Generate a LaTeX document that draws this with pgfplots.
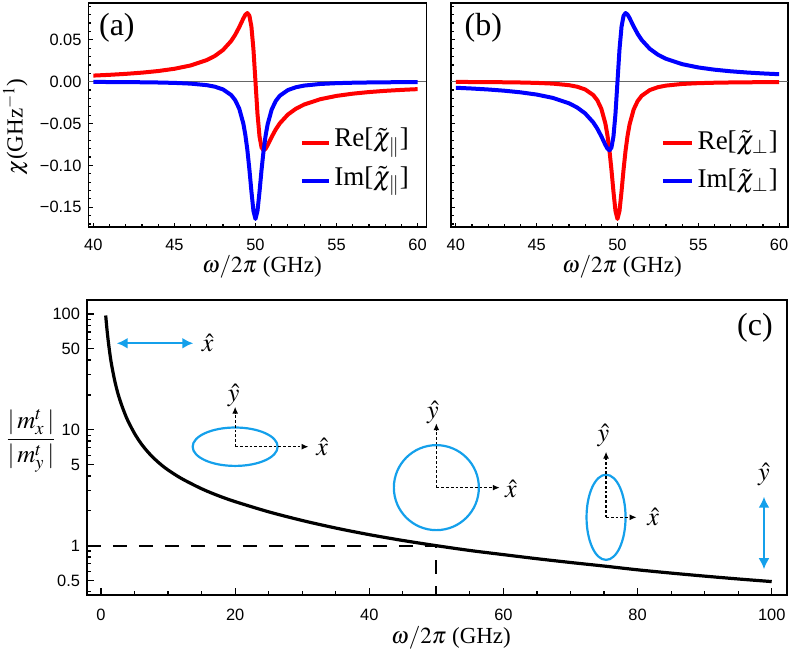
\documentclass[border=0pt]{standalone}
\usepackage{amsmath}
\usepackage{mathptmx}
\usepackage[no-math]{fontspec}
\setmainfont{Liberation Serif}
\newfontfamily\ticksf{Liberation Sans}
\usepackage{pgfplots}
\usepackage{pgfplotstable}
\pgfplotsset{compat=1.18}
\usetikzlibrary{arrows.meta}
\definecolor{cred}{RGB}{255,0,0}
\definecolor{cblue}{RGB}{0,0,255}
\definecolor{lblue}{RGB}{20,160,235}
\newcommand\lab{\fontsize{11.5}{13}\selectfont}
\newcommand\hatf{\fontsize{13}{15}\selectfont}
\newcommand\leg{\fontsize{13.5}{15}\selectfont}
\newcommand\pan{\fontsize{16}{18}\selectfont}
\tikzset{
  dotarrow/.style={black, line width=0.65pt, dash pattern=on 1.4pt off 1pt, -{Latex[length=3.5pt,width=3pt]}},
  bluearrow/.style={lblue, line width=1.1pt, {Latex[length=5.5pt,width=5.5pt]}-{Latex[length=5.5pt,width=5.5pt]}},
}

\pgfplotstableread{
w reA imA reB imB
40 0.00727 -0.00032 -0.00032 -0.00727
41 0.00819 -0.00041 -0.00041 -0.00819
42 0.00933 -0.00053 -0.00053 -0.00933
43 0.01079 -0.00071 -0.00071 -0.01079
44 0.01272 -0.00099 -0.00099 -0.01272
45 0.01540 -0.00146 -0.00146 -0.01540
46 0.01937 -0.00232 -0.00232 -0.01937
47 0.02582 -0.00417 -0.00417 -0.02582
47.5 0.03079 -0.00600 -0.00600 -0.03079
48 0.03789 -0.00928 -0.00928 -0.03789
48.5 0.04860 -0.01595 -0.01595 -0.04860
48.75 0.05603 -0.02213 -0.02213 -0.05603
49 0.06520 -0.03227 -0.03227 -0.06520
49.25 0.07547 -0.04993 -0.04993 -0.07547
49.375 0.07989 -0.06351 -0.06351 -0.07989
49.5 0.08200 -0.08159 -0.08159 -0.08200
49.625 0.07880 -0.10468 -0.10468 -0.07880
49.75 0.06570 -0.13107 -0.13107 -0.06570
49.875 0.03863 -0.15433 -0.15433 -0.03863
50 0.00000 -0.16400 -0.16400 0.00000
50.125 -0.03855 -0.15438 -0.15438 0.03855
50.25 -0.06550 -0.13133 -0.13133 0.06550
50.375 -0.07864 -0.10524 -0.10524 0.07864
50.5 -0.08200 -0.08241 -0.08241 0.08200
50.625 -0.08011 -0.06448 -0.06448 0.08011
50.75 -0.07591 -0.05098 -0.05098 0.07591
51 -0.06599 -0.03332 -0.03332 0.06599
51.25 -0.05705 -0.02310 -0.02310 0.05705
51.5 -0.04978 -0.01684 -0.01684 0.04978
52 -0.03925 -0.01001 -0.01001 0.03925
52.5 -0.03225 -0.00661 -0.00661 0.03225
53 -0.02733 -0.00469 -0.00469 0.02733
54 -0.02094 -0.00272 -0.00272 0.02094
55 -0.01699 -0.00178 -0.00178 0.01699
56 -0.01433 -0.00126 -0.00126 0.01433
57 -0.01241 -0.00094 -0.00094 0.01241
58 -0.01096 -0.00074 -0.00074 0.01096
59 -0.00983 -0.00059 -0.00059 0.00983
60 -0.00892 -0.00049 -0.00049 0.00892
}\chidata

\pgfplotstableread{
w v
0.7 97.1
0.85 77.6
1.0 64
1.2 51.3
1.5 38.7
2.0 27.25
2.5 20.8
3.0 16.83
3.5 14.06
4.0 12.0
5.0 9.3
6.0 7.58
7.0 6.43
8.0 5.6
9.0 4.98
10 4.5
12 3.8
15 3.1
17.5 2.70
20 2.40
25 1.96
30 1.65
35 1.42
40 1.245
45 1.109
50 1.0
55 0.909
60 0.837
65 0.772
70 0.716
75 0.667
80 0.619
85 0.58
90 0.546
95 0.516
100 0.49
}\ratiodata

\pgfplotsset{
  frame/.style={
    scale only axis,
    tick align=inside,
    xtick pos=left, ytick pos=left,
    tick style={black, line width=0.6pt},
    axis line style={line width=0.9pt},
    ticklabel style={font=\ticksf\fontsize{8.2}{9}\selectfont},
    /pgf/number format/assume math mode=true,
    xlabel style={font=\lab, anchor=center},
    ylabel style={font=\lab, anchor=center},
  },
  chistyle/.style={
    frame,
    width=169pt, height=112pt,
    xmin=39.7, xmax=60.55, ymin=-0.1736, ymax=0.094,
    xtick={40,45,50,55,60}, xticklabels={40,45,50,55,60},
    minor xtick={41,42,43,44,46,47,48,49,51,52,53,54,56,57,58,59},
    ytick={-0.15,-0.1,-0.05,0,0.05},
    minor ytick={-0.17,-0.16,-0.14,-0.13,-0.12,-0.11,-0.09,-0.08,-0.07,-0.06,-0.04,-0.03,-0.02,-0.01,0.01,0.02,0.03,0.04,0.06,0.07,0.08,0.09},
    major tick length=2.2pt, minor tick length=1.3pt,
    xticklabel style={yshift=-2.5pt},
    xlabel={$\omega/2\pi$ (GHz)},
  },
}

\begin{document}
\begin{tikzpicture}[x=1pt,y=1pt]
\useasboundingbox (0,0) rectangle (394.5,329);

% ---------- (a)
\begin{axis}[chistyle,
  at={(44.25pt,215.5pt)}, anchor=south west,
  yticklabels={−0.15,−0.10,−0.05,0.00,0.05},
  xlabel style={at={(axis description cs:0.513,-0.179)}},
  ylabel={$\chi$(GHz$^{-1}$)},
  ylabel style={at={(axis description cs:-0.216,0.448)}},
]
\addplot[black!60, line width=0.5pt] coordinates {(39.7,0) (60.55,0)};
\addplot[cred, line width=2pt, line join=round] table[x=w, y=reA] {\chidata};
\addplot[cblue, line width=2pt, line join=round] table[x=w, y=imA] {\chidata};
\node[font=\pan] at (rel axis cs:0.084,0.891) {(a)};
\draw[cred, line width=2pt] (rel axis cs:0.631,0.376) -- (rel axis cs:0.713,0.376);
\node[font=\leg, anchor=west, inner sep=0pt] at (rel axis cs:0.726,0.376) {Re[$\tilde{\chi}_{\parallel}$]};
\draw[cblue, line width=2pt] (rel axis cs:0.631,0.205) -- (rel axis cs:0.713,0.205);
\node[font=\leg, anchor=west, inner sep=0pt] at (rel axis cs:0.726,0.205) {Im[$\tilde{\chi}_{\parallel}$]};
\end{axis}

% ---------- (b)
\begin{axis}[chistyle,
  at={(225.5pt,215.5pt)}, anchor=south west, width=168.5pt,
  yticklabels={},
  xlabel style={at={(axis description cs:0.507,-0.179)}},
]
\addplot[black!60, line width=0.5pt] coordinates {(39.7,0) (60.55,0)};
\addplot[cred, line width=2pt, line join=round] table[x=w, y=reB] {\chidata};
\addplot[cblue, line width=2pt, line join=round] table[x=w, y=imB] {\chidata};
\node[font=\pan] at (rel axis cs:0.096,0.888) {(b)};
\draw[cred, line width=2pt] (rel axis cs:0.629,0.376) -- (rel axis cs:0.715,0.376);
\node[font=\leg, anchor=west, inner sep=0pt] at (rel axis cs:0.731,0.376) {Re[$\tilde{\chi}_{\perp}$]};
\draw[cblue, line width=2pt] (rel axis cs:0.629,0.205) -- (rel axis cs:0.715,0.205);
\node[font=\leg, anchor=west, inner sep=0pt] at (rel axis cs:0.731,0.205) {Im[$\tilde{\chi}_{\perp}$]};
\end{axis}

% ---------- (c)
\begin{axis}[frame,
  at={(43.5pt,31.5pt)}, anchor=south west,
  width=350pt, height=147.5pt,
  xmin=-2.09, xmax=102.28,
  ymode=log, ymin=0.3753, ymax=132.1,
  xtick={0,20,40,60,80,100}, xticklabels={0,20,40,60,80,100},
  minor xtick={5,10,15,25,30,35,45,50,55,65,70,75,85,90,95},
  ytick={0.5,1,5,10,50,100}, yticklabels={0.5,1,5,10,50,100},
  minor ytick={0.4,0.6,0.7,0.8,0.9,2,3,4,6,7,8,9,20,30,40,60,70,80,90},
  major tick length=3.6pt, minor tick length=2pt,
  xticklabel style={yshift=-3.4pt},
  xlabel={$\omega/2\pi$ (GHz)},
  xlabel style={at={(axis description cs:0.52,-0.146)}},
  ylabel={$\dfrac{|\,m_x^t\,|}{|\,m_y^t\,|}$},
  ylabel style={font=\fontsize{12.5}{14}\selectfont, rotate=-90, at={(axis description cs:-0.08,0.522)}},
]
\addplot[black, line width=1pt, dash pattern=on 7pt off 6pt] coordinates {(-2.09,1) (50,1) (50,0.3753)};
\addplot[black, line width=1.6pt, smooth, tension=0.5] table[x=w, y=v] {\ratiodata};

\draw[bluearrow] (axis cs:2.34,55.9) -- (axis cs:13.76,55.9);
\node[font=\hatf] at (axis cs:15.9,55.9) {$\hat{x}$};

\coordinate (E1) at (axis cs:20,7.15);
\draw[lblue, line width=1.1pt] (E1) ellipse [x radius=21.25pt, y radius=9.6pt];
\draw[dotarrow] (E1) -- ++(0pt,20pt);
\draw[dotarrow] (E1) -- ++(36.7pt,0pt);
\node[font=\hatf] at ([shift={(-0.8pt,25.8pt)}]E1) {$\hat{y}$};
\node[font=\hatf] at ([shift={(43.5pt,0pt)}]E1) {$\hat{x}$};

\coordinate (E2) at (axis cs:50,3.17);
\draw[lblue, line width=1.1pt] (E2) circle [radius=21.25pt];
\draw[dotarrow] (E2) -- ++(0pt,32.2pt);
\draw[dotarrow] (E2) -- ++(31.7pt,0pt);
\node[font=\hatf] at ([shift={(-1.7pt,37.5pt)}]E2) {$\hat{y}$};
\node[font=\hatf] at ([shift={(37.3pt,-0.8pt)}]E2) {$\hat{x}$};

\coordinate (E3) at (axis cs:75.3,1.758);
\draw[lblue, line width=1.1pt] (E3) ellipse [x radius=9.75pt, y radius=21.3pt];
\draw[dotarrow] (E3) -- ++(0pt,32.8pt);
\draw[dotarrow] (E3) -- ++(15.3pt,0pt);
\node[font=\hatf] at ([shift={(-1.35pt,41pt)}]E3) {$\hat{y}$};
\node[font=\hatf] at ([shift={(23.6pt,0.3pt)}]E3) {$\hat{x}$};

\draw[bluearrow] (axis cs:98.85,0.626) -- (axis cs:98.85,2.65);
\node[font=\hatf] at (axis cs:98.85,4.08) {$\hat{y}$};

\node[font=\pan] at (axis cs:97.5,75.3) {(c)};
\end{axis}
\end{tikzpicture}
\end{document}
